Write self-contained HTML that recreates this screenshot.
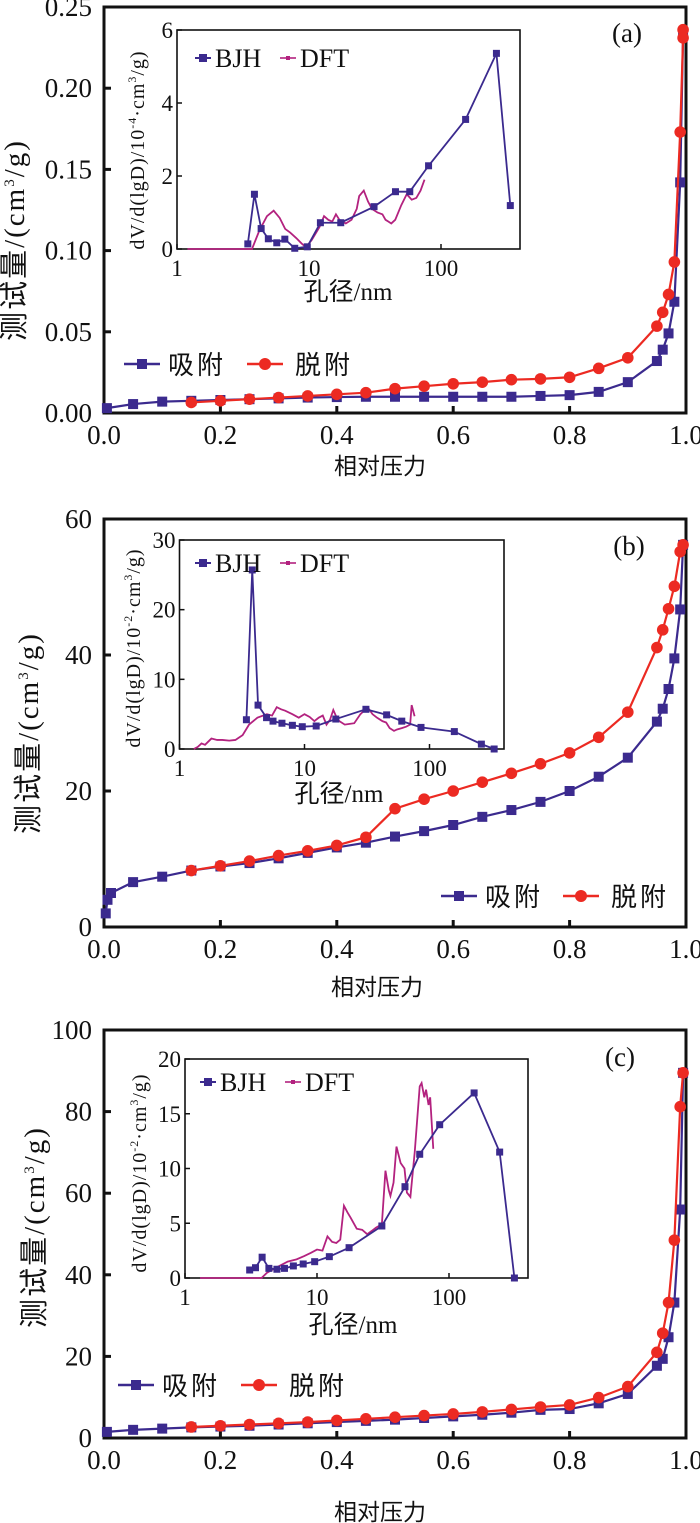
<!DOCTYPE html>
<html><head><meta charset="utf-8"><style>
html,body{margin:0;padding:0;background:#fff;}
svg{display:block;}
text{font-family:"Liberation Serif","Noto Serif CJK SC",serif;fill:#111;}
.cn{font-family:"Liberation Serif","Noto Sans CJK SC",sans-serif;}
</style></head><body>
<svg id="fig" width="700" height="1523" viewBox="0 0 700 1523" xmlns="http://www.w3.org/2000/svg"></svg>
<script>
// ---------- Panel (a) data ----------
const aAdsX=[0.005,0.05,0.1,0.15,0.2,0.25,0.3,0.35,0.4,0.45,0.5,0.55,0.6,0.65,0.7,0.75,0.8,0.85,0.9,0.95,0.96,0.97,0.98,0.99,0.995];
const aAdsY=[0.003,0.0055,0.007,0.0075,0.008,0.0085,0.009,0.0095,0.0098,0.01,0.01,0.01,0.01,0.01,0.01,0.0105,0.011,0.013,0.019,0.032,0.039,0.049,0.0685,0.142,0.234];
const aDesX=[0.15,0.2,0.25,0.3,0.35,0.4,0.45,0.5,0.55,0.6,0.65,0.7,0.75,0.8,0.85,0.9,0.95,0.96,0.97,0.98,0.99,0.995,0.995];
const aDesY=[0.0065,0.0075,0.0085,0.0095,0.0105,0.0115,0.0125,0.015,0.0165,0.018,0.019,0.0205,0.021,0.022,0.0275,0.034,0.0535,0.062,0.073,0.093,0.173,0.231,0.236];
const aBjhD=[3.44,3.86,4.34,4.92,5.7,6.56,7.8,9.7,12.2,17.4,31.1,45.2,58,80.5,153.6,263,335];
const aBjhV=[0.14,1.5,0.56,0.28,0.17,0.27,0.02,0.06,0.72,0.72,1.16,1.57,1.57,2.28,3.55,5.36,1.19];
const aDftD=[1.2,2,3,3.7,4.2,4.8,5.4,6,6.6,7.2,8,8.8,9.5,10.5,12,13,14,15,16,17,18,19,21,23,24,26,28,30,33,36,38,40,42,45,50,55,60,65,70,75];
const aDftV=[0,0,0,0,0.5,0.9,1.05,0.85,0.55,0.45,0.3,0.15,0.05,0.25,0.6,0.9,0.8,0.75,0.95,0.8,0.75,0.7,0.8,1.1,1.45,1.6,1.3,1.1,1.0,0.95,0.8,0.75,0.7,0.8,1.2,1.5,1.35,1.4,1.6,1.9];
// ---------- Panel (b) data ----------
const bAdsX=[0.003,0.006,0.012,0.05,0.1,0.15,0.2,0.25,0.3,0.35,0.4,0.45,0.5,0.55,0.6,0.65,0.7,0.75,0.8,0.85,0.9,0.95,0.96,0.97,0.98,0.99,0.995];
const bAdsY=[2.0,4.0,5.0,6.6,7.4,8.3,8.9,9.4,10.1,10.9,11.7,12.4,13.3,14.1,15.0,16.2,17.2,18.4,20.0,22.1,24.9,30.2,32.1,35.0,39.5,46.7,56.2];
const bDesX=[0.15,0.2,0.25,0.3,0.35,0.4,0.45,0.5,0.55,0.6,0.65,0.7,0.75,0.8,0.85,0.9,0.95,0.96,0.97,0.98,0.99,0.995];
const bDesY=[8.3,9.0,9.7,10.5,11.2,12.0,13.2,17.4,18.8,20.0,21.3,22.6,24.0,25.6,27.9,31.6,41.1,43.7,46.8,50.1,55.2,56.2];
const bBjhD=[3.43,3.82,4.25,4.97,5.6,6.6,8.0,9.6,12.4,17.8,31,45.4,60,85.5,158,260,329];
const bBjhV=[4.2,25.7,6.3,4.5,4.0,3.7,3.4,3.2,3.3,4.3,5.7,4.9,4.0,3.1,2.5,0.7,0];
const bDftD=[1.3,1.4,1.5,1.6,1.8,2.0,2.2,2.5,2.8,3.2,3.6,4.2,5,5.5,6,6.5,7,8,9,10,11,12,13,14,15,16,17,18,19,21,23,25,28,32,35,38,42,45,48,52,55,60,65,70,72,76];
const bDftV=[0,0.3,0.8,0.6,1.5,1.3,1.3,1.2,1.3,2.0,3.5,4.5,5.0,4.8,6.0,5.7,5.5,5.0,4.5,5.0,4.6,4.0,4.5,4.8,3.5,4.2,5.6,4.6,4.0,3.5,3.6,3.7,5.0,6.0,5.0,4.5,4.0,3.8,3.0,2.6,2.8,3.0,3.2,3.5,6.3,4.7];
// ---------- Panel (c) data ----------
const cAdsX=[0.005,0.05,0.1,0.15,0.2,0.25,0.3,0.35,0.4,0.45,0.5,0.55,0.6,0.65,0.7,0.75,0.8,0.85,0.9,0.95,0.96,0.97,0.98,0.99,0.995];
const cAdsY=[1.5,2.0,2.3,2.6,2.8,3.0,3.3,3.6,3.9,4.2,4.5,4.9,5.3,5.7,6.2,6.9,7.1,8.5,10.8,17.7,19.4,24.7,33.2,56.0,89.5];
const cDesX=[0.15,0.2,0.25,0.3,0.35,0.4,0.45,0.5,0.55,0.6,0.65,0.7,0.75,0.8,0.85,0.9,0.95,0.96,0.97,0.98,0.99,0.995];
const cDesY=[2.7,3.0,3.3,3.6,3.9,4.3,4.7,5.1,5.5,5.9,6.4,7.0,7.6,8.1,9.9,12.6,21.0,25.7,33.2,48.5,81.2,89.5];
const cBjhD=[3.09,3.42,3.84,4.32,4.97,5.67,6.62,7.86,9.6,12.4,17.5,31,46.4,60,85,155,242,313];
const cBjhV=[0.73,0.94,1.9,0.88,0.8,0.88,1.1,1.28,1.49,1.95,2.77,4.75,8.34,11.3,14.0,16.9,11.5,0];
const cDftD=[1.3,2,3,3.8,4.2,5,6,7,8,9,10,11,12,13,14,15,16,17,18,20,22,24,26,28,31,33,35,36,38,40,43,46,48,51,55,60,62,65,67,70,72,76];
const cDftV=[0,0,0,0,0.5,1.0,1.5,1.7,2.0,2.3,2.6,2.5,3.8,3.3,3.2,3.5,6.6,6.0,5.5,4.5,4.4,4.0,4.3,4.6,4.9,9.8,8.0,7.5,8.7,12.0,10.5,10.0,7.8,7.4,11.5,17.5,17.8,16.5,17.2,15.8,16.5,11.8];
// tick labels
const aYTicks=[0,0.05,0.10,0.15,0.20,0.25], aYTickLbl=["0.00","0.05","0.10","0.15","0.20","0.25"];
const bYTicks=[0,20,40,60], cYTicks=[0,20,40,60,80,100];
const xTicks=[0,0.2,0.4,0.6,0.8,1.0], xTickLbl=["0.0","0.2","0.4","0.6","0.8","1.0"];
const aInY=[0,2,4,6], bInY=[0,10,20,30], cInY=[0,5,10,15,20];
const inX=[1,10,100];

const NS="http://www.w3.org/2000/svg";
const svg=document.getElementById('fig');
function el(tag,attrs,parent,txt){const e=document.createElementNS(NS,tag);for(const k in attrs)e.setAttribute(k,attrs[k]);if(txt!==undefined)e.textContent=txt;(parent||svg).appendChild(e);return e;}
const BLUE="#3b2a8e",RED="#ec2a22",MAG="#b3227f";

function panel(P){
  const g=el('g',{});
  
  
  const X=v=>P.x0+(P.x1-P.x0)*v, Y=v=>P.yb+(P.yt-P.yb)*(v/P.ymax);
  const fr=el('rect',{x:P.x0,y:P.yt,width:P.x1-P.x0,height:P.yb-P.yt,fill:'none',stroke:'#111','stroke-width':3},g);
  
  P.yTicks.forEach((t,i)=>{const y=Y(t);
    el('line',{x1:P.x0,x2:P.x0+7,y1:y,y2:y,stroke:'#111','stroke-width':3},g);
    const tx=el('text',{x:P.x0-12,y:y+9,'text-anchor':'end','font-size':27},g,P.yLbl[i]);
    });
  xTicks.forEach((t,i)=>{const x=X(t);
    el('line',{x1:x,x2:x,y1:P.yb,y2:P.yb-7,stroke:'#111','stroke-width':3},g);
    const tx=el('text',{x:x,y:P.yb+31,'text-anchor':'middle','font-size':27},g,xTickLbl[i]);
    });
  const yt=el('text',{x:0,y:0,'text-anchor':'middle','font-size':29,'letter-spacing':2,class:'cn',transform:`translate(${P.ylx},${P.yly}) rotate(-90)`},g);
  
  el('tspan',{},yt,'测试量/(cm');el('tspan',{dy:-10,'font-size':15},yt,'3');el('tspan',{dy:10},yt,'/g)');
  const xt=el('text',{x:P.xlx,y:P.xly,'text-anchor':'middle','font-size':23,class:'cn'},g,'相对压力');
  
  const pl=el('text',{x:P.plx,y:P.ply,'text-anchor':'middle','font-size':27},g,'('+P.id+')');
  
  const ads=el('polyline',{points:P.adsX.map((v,i)=>X(v)+','+Y(P.adsY[i])).join(' '),fill:'none',stroke:BLUE,'stroke-width':2.2},g);
  
  P.adsX.forEach((v,i)=>{const m=el('rect',{x:X(v)-5,y:Y(P.adsY[i])-5,width:10,height:10,fill:BLUE},g);
    });
  const des=el('polyline',{points:P.desX.map((v,i)=>X(v)+','+Y(P.desY[i])).join(' '),fill:'none',stroke:RED,'stroke-width':2.2},g);
  
  P.desX.forEach((v,i)=>{const m=el('circle',{cx:X(v),cy:Y(P.desY[i]),r:5.8,fill:RED},g);
    });
  const lg=el('g',{},g);
  el('line',{x1:P.lgx,x2:P.lgx+36,y1:P.lgy,y2:P.lgy,stroke:BLUE,'stroke-width':2.5},lg);
  el('rect',{x:P.lgx+13,y:P.lgy-5,width:10,height:10,fill:BLUE},lg);
  el('text',{x:P.lgx+44,y:P.lgy+10,'font-size':26,'letter-spacing':3,class:'cn'},lg,'吸附');
  el('line',{x1:P.lgx2,x2:P.lgx2+36,y1:P.lgy,y2:P.lgy,stroke:RED,'stroke-width':2.5},lg);
  el('circle',{cx:P.lgx2+18,cy:P.lgy,r:6,fill:RED},lg);
  el('text',{x:P.lgx2+48,y:P.lgy+10,'font-size':26,'letter-spacing':3,class:'cn'},lg,'脱附');
  const I=P.inset;const ig=el('g',{},g);
  const IX=d=>I.x0+I.dec*Math.log10(d), IY=v=>I.yb+(I.yt-I.yb)*(v/I.ymax);
  el('rect',{x:I.x0,y:I.yt,width:I.x1-I.x0,height:I.yb-I.yt,fill:'#fff',stroke:'#111','stroke-width':1.6},ig);
  I.yTicks.forEach(t=>{const y=IY(t);el('line',{x1:I.x0,x2:I.x0+5,y1:y,y2:y,stroke:'#111','stroke-width':1.5},ig);
    const tx=el('text',{x:I.x0-4,y:y+8,'text-anchor':'end','font-size':23},ig,String(t));
    });
  inX.forEach(t=>{const x=IX(t);el('line',{x1:x,x2:x,y1:I.yb,y2:I.yb-5,stroke:'#111','stroke-width':1.5},ig);
    const tx=el('text',{x:x,y:I.yb+27,'text-anchor':'middle','font-size':23},ig,String(t));
    });
  const dft=el('polyline',{points:I.dftD.map((d,i)=>IX(d)+','+IY(I.dftV[i])).join(' '),fill:'none',stroke:MAG,'stroke-width':1.8},ig);
  
  const bjh=el('polyline',{points:I.bjhD.map((d,i)=>IX(d)+','+IY(I.bjhV[i])).join(' '),fill:'none',stroke:BLUE,'stroke-width':1.8},ig);
  
  I.bjhD.forEach((d,i)=>{const m=el('rect',{x:IX(d)-3.5,y:IY(I.bjhV[i])-3.5,width:7,height:7,fill:BLUE},ig);
    });
  const il=el('g',{},ig);
  el('line',{x1:I.lgx-8,x2:I.lgx+8,y1:I.lgy,y2:I.lgy,stroke:BLUE,'stroke-width':2},il);
  el('rect',{x:I.lgx-4,y:I.lgy-4,width:8,height:8,fill:BLUE},il);
  el('text',{x:I.lgx+12,y:I.lgy+9,'font-size':26},il,'BJH');
  el('line',{x1:I.lgx+77,x2:I.lgx+93,y1:I.lgy,y2:I.lgy,stroke:MAG,'stroke-width':1.6},il);
  el('rect',{x:I.lgx+83,y:I.lgy-2,width:4,height:4,fill:MAG},il);
  el('text',{x:I.lgx+97,y:I.lgy+9,'font-size':26},il,'DFT');
  const iy=el('text',{x:0,y:0,'text-anchor':'middle','font-size':20,'letter-spacing':1,transform:`translate(${I.ylx},${I.yly}) rotate(-90)`},ig);
  
  el('tspan',{},iy,'dV/d(lgD)/10');el('tspan',{dy:-8,'font-size':12},iy,I.exp);el('tspan',{dy:8},iy,'·cm');
  el('tspan',{dy:-8,'font-size':12},iy,'3');el('tspan',{dy:8},iy,'/g)');
  const ix=el('text',{x:I.xlx,y:I.xly,'text-anchor':'middle','font-size':25,class:'cn'},ig,'孔径/nm');
  
}

panel({id:'a',x0:104,x1:686,yt:7,yb:413,ymax:0.25,yTicks:aYTicks,yLbl:aYTickLbl,
  ylx:24,yly:240,xlx:380,xly:474,plx:627,ply:42,
  adsX:aAdsX,adsY:aAdsY,desX:aDesX,desY:aDesY,lgx:124,lgx2:247,lgy:364,
  inset:{x0:177,x1:520,yt:30,yb:249,ymax:6,dec:132,yTicks:aInY,bjhD:aBjhD,bjhV:aBjhV,dftD:aDftD,dftV:aDftV,
    lgx:203,lgy:58,ylx:144,yly:150,xlx:348,xly:300,exp:'-4'}});
panel({id:'b',x0:104,x1:686,yt:519,yb:927,ymax:60,yTicks:bYTicks,yLbl:bYTicks.map(String),
  ylx:38,yly:733,xlx:377,xly:995,plx:629,ply:555,
  adsX:bAdsX,adsY:bAdsY,desX:bDesX,desY:bDesY,lgx:441,lgx2:563,lgy:896,
  inset:{x0:179.5,x1:504,yt:540,yb:749,ymax:30,dec:125,yTicks:bInY,bjhD:bBjhD,bjhV:bBjhV,dftD:bDftD,dftV:bDftV,
    lgx:203,lgy:563,ylx:140,yly:648,xlx:339,xly:802,exp:'-2'}});
panel({id:'c',x0:104,x1:686,yt:1030,yb:1438,ymax:100,yTicks:cYTicks,yLbl:cYTicks.map(String),
  ylx:44,yly:1227,xlx:380,xly:1520,plx:620,ply:1066,
  adsX:cAdsX,adsY:cAdsY,desX:cDesX,desY:cDesY,lgx:118,lgx2:241,lgy:1385,
  inset:{x0:185,x1:528,yt:1059,yb:1278,ymax:20,dec:132,yTicks:cInY,bjhD:cBjhD,bjhV:cBjhV,dftD:cDftD,dftV:cDftV,
    lgx:208,lgy:1082,ylx:146,yly:1173,xlx:353,xly:1333,exp:'-2'}});
</script>
</body></html>
